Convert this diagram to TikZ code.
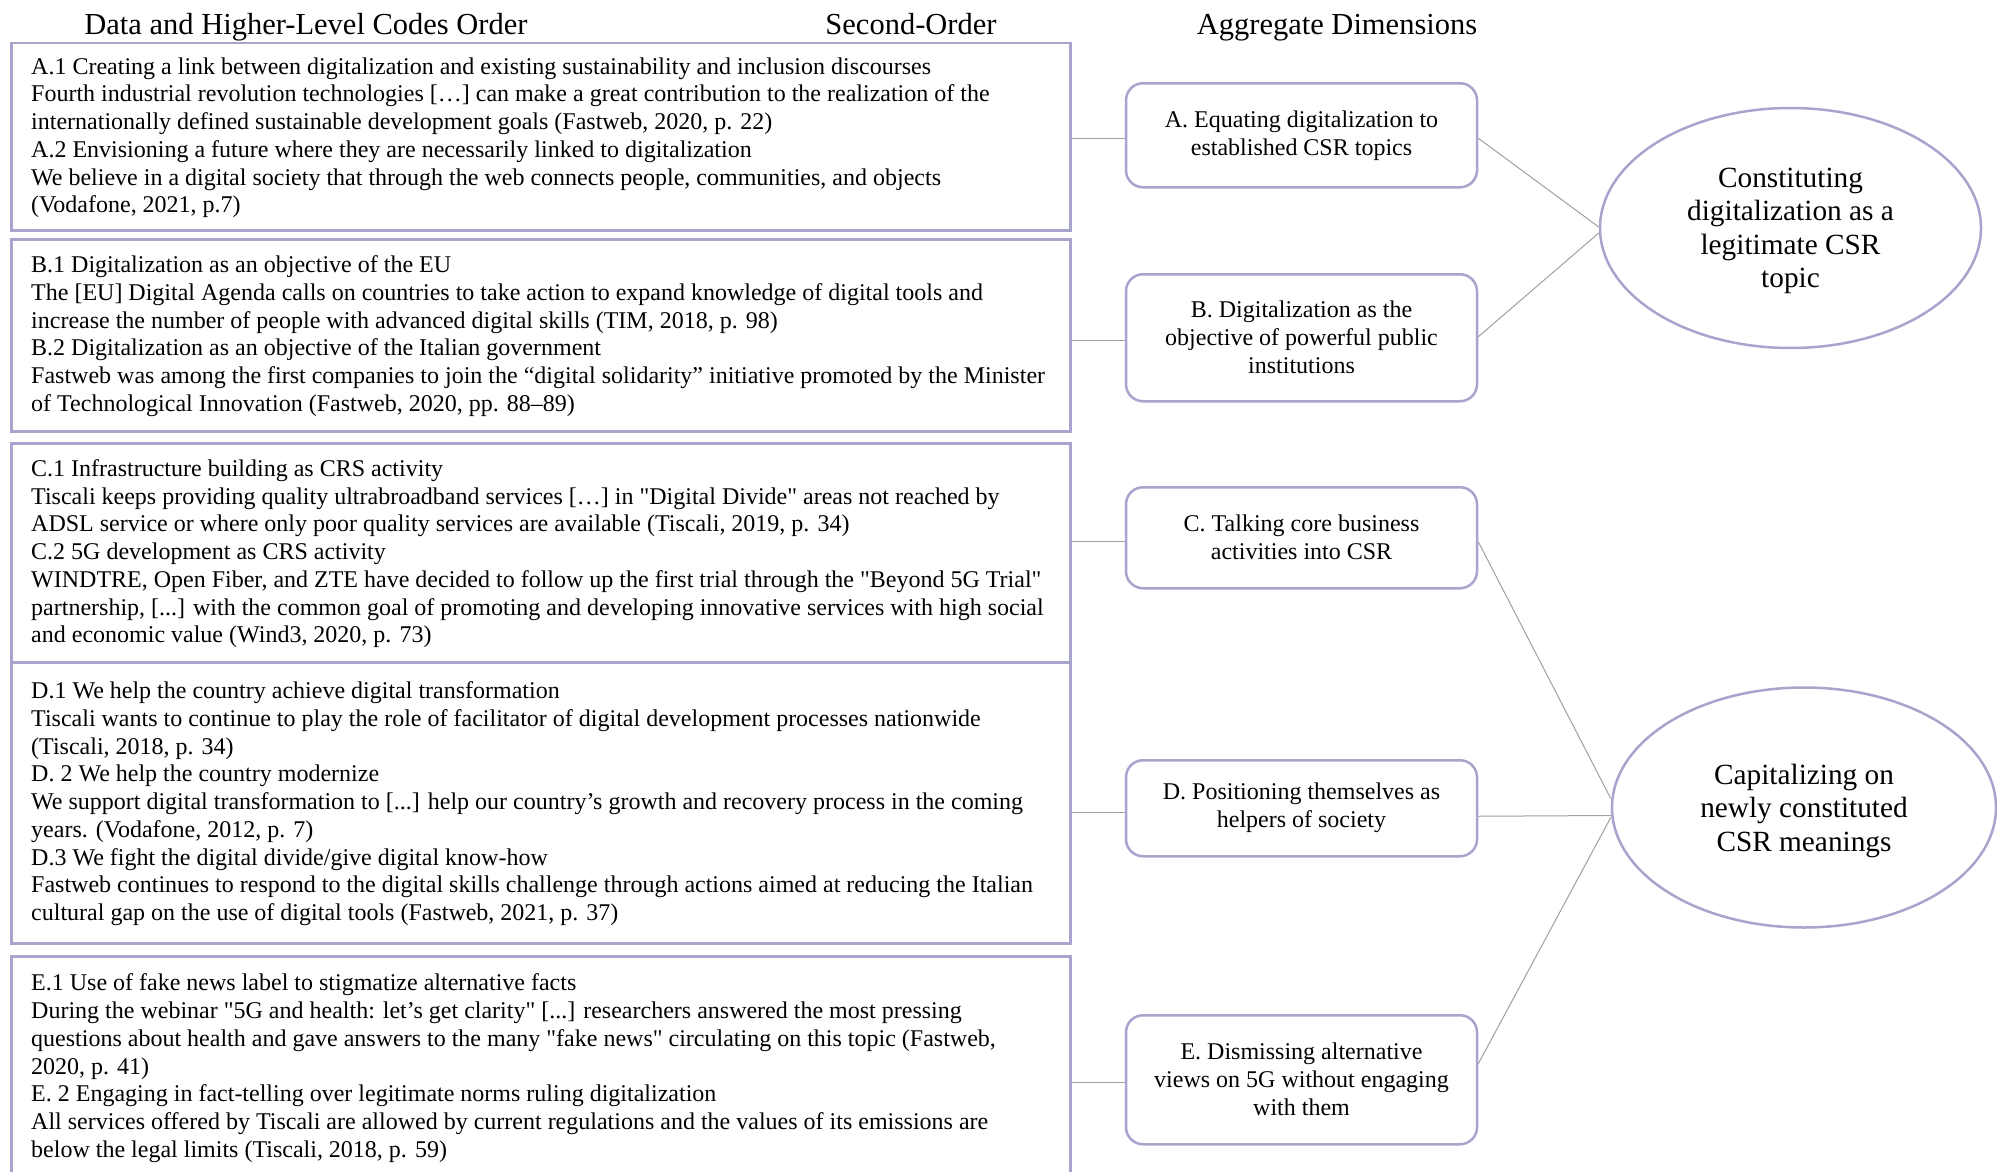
\documentclass[tikz,border=0pt]{standalone}
\usepackage{fontspec}
\setmainfont{Liberation Serif}[Ligatures=TeXOff]
\usetikzlibrary{shapes.geometric}
\definecolor{lav}{RGB}{167,164,206}
\definecolor{connc}{RGB}{160,160,160}
\begin{document}
\begin{tikzpicture}[x=1pt,y=-1pt,
  lbox/.style={draw=lav, line width=2.5pt, minimum width=1059pt, inner sep=0pt, anchor=north west},
  ltext/.style={align=left, anchor=west, inner sep=0pt, font=\fontsize{24}{27.75}\selectfont},
  sbox/.style={draw=lav, line width=2.5pt, rounded corners=17pt, minimum width=351pt, align=center, inner sep=0pt, font=\fontsize{24}{28}\selectfont, anchor=north},
  agg/.style={ellipse, draw=lav, line width=2.5pt, inner sep=0pt, align=center, text depth=0pt, font=\fontsize{29.3}{33.5}\selectfont},
  conn/.style={draw=connc, line width=1pt},
  hdr/.style={anchor=base, inner sep=0pt, font=\fontsize{30.5}{35}\selectfont}
]
\useasboundingbox (0,0) rectangle (1997,1172);
\clip (0,0) rectangle (1997,1172);
\fill[white] (0,0) rectangle (1997,1172);

% headers
\node[hdr] (h1) at (306,35) {Data and Higher-Level Codes Order};
\node[hdr] (h2) at (911,35) {Second-Order};
\node[hdr] (h3) at (1337,35) {Aggregate Dimensions};

% left boxes
\node[lbox, minimum height=187pt] (lA) at (10,42) {};
\node[ltext] (tA) at ([xshift=21pt,yshift=-1pt]lA.west) {A.1 Creating a link between digitalization and existing sustainability and inclusion discourses\\
Fourth industrial revolution technologies […] can make a great contribution to the realization of the\\
internationally defined sustainable development goals (Fastweb, 2020, p. 22)\\
A.2 Envisioning a future where they are necessarily linked to digitalization\\
We believe in a digital society that through the web connects people, communities, and objects\\
(Vodafone, 2021, p.7)};

\node[lbox, minimum height=192pt] (lB) at (10,238) {};
\node[ltext] (tB) at ([xshift=21pt,yshift=-1pt]lB.west) {B.1 Digitalization as an objective of the EU\\
The [EU] Digital Agenda calls on countries to take action to expand knowledge of digital tools and\\
increase the number of people with advanced digital skills (TIM, 2018, p. 98)\\
B.2 Digitalization as an objective of the Italian government\\
Fastweb was among the first companies to join the “digital solidarity” initiative promoted by the Minister\\
of Technological Innovation (Fastweb, 2020, pp. 88–89)};

\node[lbox, minimum height=219pt] (lC) at (10,442) {};
\node[ltext] (tC) at ([xshift=21pt,yshift=-1pt]lC.west) {C.1 Infrastructure building as CRS activity\\
Tiscali keeps providing quality ultrabroadband services […] in "Digital Divide" areas not reached by\\
ADSL service or where only poor quality services are available (Tiscali, 2019, p. 34)\\
C.2 5G development as CRS activity\\
WINDTRE, Open Fiber, and ZTE have decided to follow up the first trial through the "Beyond 5G Trial"\\
partnership, [...] with the common goal of promoting and developing innovative services with high social\\
and economic value (Wind3, 2020, p. 73)};

\node[lbox, minimum height=281pt] (lD) at (10,661) {};
\node[ltext] (tD) at ([xshift=21pt,yshift=-1pt]lD.west) {D.1 We help the country achieve digital transformation\\
Tiscali wants to continue to play the role of facilitator of digital development processes nationwide\\
(Tiscali, 2018, p. 34)\\
D. 2 We help the country modernize\\
We support digital transformation to [...] help our country’s growth and recovery process in the coming\\
years. (Vodafone, 2012, p. 7)\\
D.3 We fight the digital divide/give digital know-how\\
Fastweb continues to respond to the digital skills challenge through actions aimed at reducing the Italian\\
cultural gap on the use of digital tools (Fastweb, 2021, p. 37)};

\node[lbox, minimum height=222pt] (lE) at (10,955) {};
\node[ltext] (tE) at ([xshift=21pt,yshift=-1pt]lE.west) {E.1 Use of fake news label to stigmatize alternative facts\\
During the webinar "5G and health: let’s get clarity" [...] researchers answered the most pressing\\
questions about health and gave answers to the many "fake news" circulating on this topic (Fastweb,\\
2020, p. 41)\\
E. 2 Engaging in fact-telling over legitimate norms ruling digitalization\\
All services offered by Tiscali are allowed by current regulations and the values of its emissions are\\
below the legal limits (Tiscali, 2018, p. 59)};

% second-order boxes
\node[sbox, minimum height=104pt] (sA) at (1301.5,82) {A. Equating digitalization to\\established CSR topics};
\node[sbox, minimum height=127pt] (sB) at (1301.5,273) {B. Digitalization as the\\objective of powerful public\\institutions};
\node[sbox, minimum height=101pt] (sC) at (1301.5,486) {C. Talking core business\\activities into CSR};
\node[sbox, minimum height=96pt] (sD) at (1301.5,759) {D. Positioning themselves as\\helpers of society};
\node[sbox, minimum height=129pt] (sE) at (1301.5,1014) {E. Dismissing alternative\\views on 5G without engaging\\with them};

% aggregate dimensions
\node[agg, minimum width=381pt, minimum height=240pt] (g1) at (1790.5,228) {Constituting\\digitalization as a\\legitimate CSR\\topic};
\node[agg, minimum width=384pt, minimum height=240pt] (g2) at (1804,807.5) {Capitalizing on\\newly constituted\\CSR meanings};

% connectors left -> second order
\coordinate (pA) at ([yshift=-3pt]sA.west);
\coordinate (pB) at ([yshift=-3pt]sB.west);
\coordinate (pC) at ([yshift=-4pt]sC.west);
\coordinate (pD) at ([yshift=-4pt]sD.west);
\coordinate (pE) at ([yshift=-3pt]sE.west);
\draw[conn] (pA) -- (pA -| lA.east);
\draw[conn] (pB) -- (pB -| lB.east);
\draw[conn] (pC) -- (pC -| lC.east);
\draw[conn] (pD) -- (pD -| lD.east);
\draw[conn] (pE) -- (pE -| lE.east);

% connectors second order -> aggregate
\draw[conn] ([yshift=-3pt]sA.east) -- ([yshift=1pt]g1.west);
\draw[conn] ([yshift=1pt]sB.east) -- ([yshift=-5pt]g1.west);
\draw[conn] ([yshift=-4pt]sC.east) -- ([yshift=9pt]g2.west);
\draw[conn] ([yshift=-8pt]sD.east) -- ([yshift=-8pt]g2.west);
\draw[conn] ([yshift=16pt]sE.east) -- ([yshift=-10pt]g2.west);
\end{tikzpicture}
\end{document}
